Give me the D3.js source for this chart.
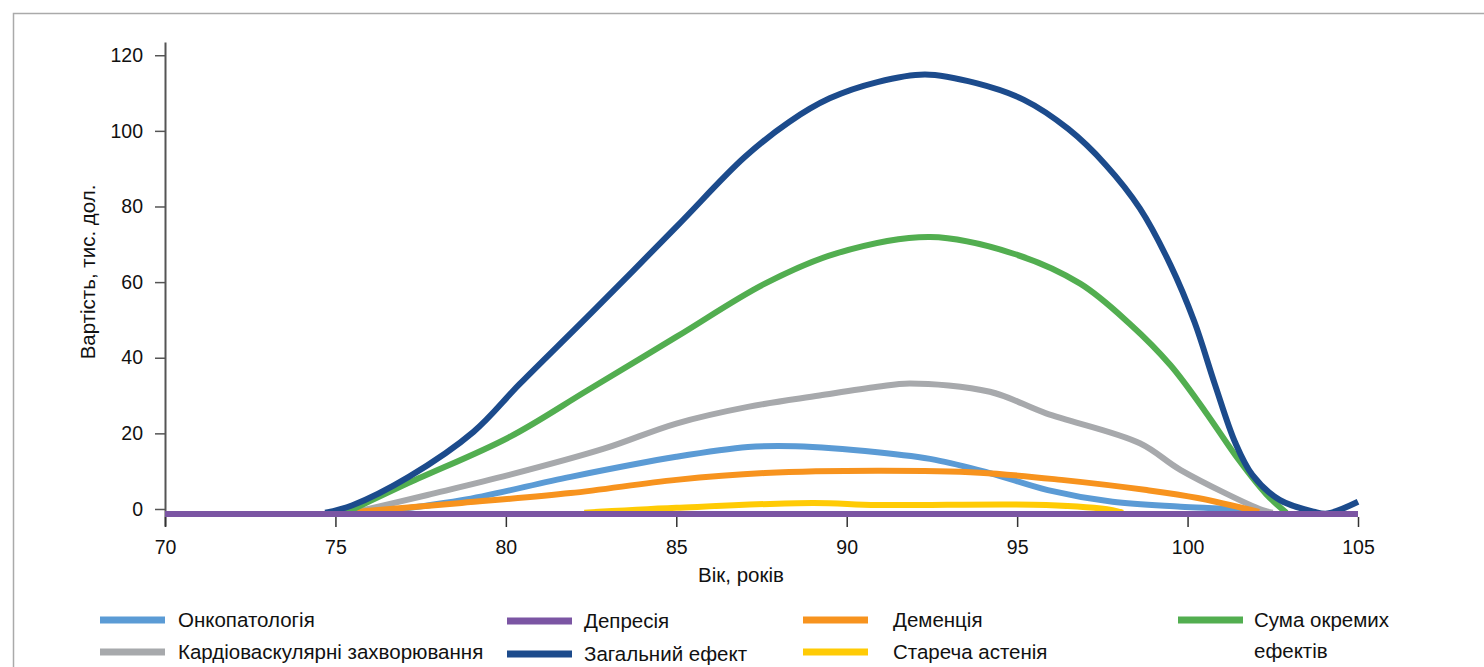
<!DOCTYPE html>
<html><head><meta charset="utf-8">
<script src="https://cdn.jsdelivr.net/npm/d3@7/dist/d3.min.js"></script>
<style>
body{margin:0;background:#fff;}
text{font-family:"Liberation Sans",Arial,sans-serif;fill:#111;}
</style></head>
<body><svg id="c" width="1484" height="667"></svg>
<script>
const xTicks = [70,75,80,85,90,95,100,105];
const yTicks = [0,20,40,60,80,100,120];

const oncoAge = [76,78.7,81.9,85,87.1,88.5,90.9,92.6,94.2,95.9,97.8,99.8,101.3,102];
const oncoVal = [-1,2.3,8.5,13.8,16.4,16.6,15,13,9.5,5,1.9,0.6,-0.1,-1];

const cardioAge = [75.5,77.7,80.1,82.9,85,87.1,89.2,90.9,91.85,94.2,95.85,98.6,99.8,102.2,102.5];
const cardioVal = [-1,3.7,9,16,22.6,27,30,32.3,33.2,31,25.3,17.4,10.3,-0.3,-1];

const dementAge = [75.3,78.7,81.9,85,87.6,90.9,93.9,96.3,98.8,100.3,102.1];
const dementVal = [-1,1.6,4.2,7.7,9.5,10.1,9.6,7.7,5,2.9,-0.8];

const frailAge = [82.3,85,89,90.9,95.85,97.8,98.1];
const frailVal = [-1,0.3,1.6,1.05,1.05,-0.3,-1];

const sumAge = [75.3,77.15,80.1,82.4,85,87.6,89.7,92.45,94.9,96.85,98.3,99.5,100.5,101.5,102.3,102.9];
const sumVal = [-1,6.9,19,31.4,45.5,59.6,67.6,71.9,67.5,59.6,49,38,26,13,4,-1];

const totalAge = [74.7,75.5,77.15,79.05,80.4,82.5,85,87,88.3,89.5,90.9,92.3,93.8,95.2,96.5,97.6,98.6,99.5,100.2,100.8,101.4,101.9,102.7,103.7,104.1,105];
const totalVal = [-1,1,8.5,20.4,33,51.8,74.6,93,102.3,108.6,112.9,114.9,112.6,108.2,100.5,91,79.5,64.5,49.5,33,17.5,9,2.4,-0.7,-1.2,1.9];

const deprAge = [70,105];
const deprVal = [-1.3,-1.3];

const legendNames = ["Онкопатологія","Кардіоваскулярні захворювання","Депресія","Загальний ефект","Деменція","Стареча астенія","Сума окремих","ефектів"];

const svg = d3.select("#c");
svg.append("rect").attr("x",13.5).attr("y",13.5).attr("width",1500).attr("height",700)
  .attr("fill","none").attr("stroke","#aaa").attr("stroke-width",1.5);

const x = d3.scaleLinear().domain([70,105]).range([165,1358]);
const y = d3.scaleLinear().domain([-4.5,123.5]).range([526,42]);

// y axis
const ya = svg.append("g").attr("transform","translate(165,0)")
  .call(d3.axisLeft(y).tickValues(yTicks).tickSize(10).tickSizeOuter(0).tickPadding(12));
ya.select(".domain").attr("stroke","#555").attr("stroke-width",2);
ya.selectAll(".tick line").attr("stroke","#555").attr("stroke-width",1.5);
ya.selectAll(".tick text").style("font-size","19.5px").attr("fill","#111");

// x axis
const xa = svg.append("g").attr("transform","translate(0,517)")
  .call(d3.axisBottom(x).tickValues(xTicks).tickSize(10).tickSizeOuter(0).tickPadding(13));
xa.select(".domain").remove();
xa.selectAll(".tick line").attr("stroke","#333").attr("stroke-width",1.5);
xa.selectAll(".tick text").style("font-size","19.5px").attr("fill","#111");

svg.append("text").attr("x",741).attr("y",582).attr("text-anchor","middle")
  .style("font-size","20.5px").text("Вік, років");
svg.append("text").attr("transform","translate(95,272) rotate(-90)").attr("text-anchor","middle")
  .style("font-size","20.5px").text("Вартість, тис. дол.");

const series = [
  {age:oncoAge,val:oncoVal,color:"#5b9bd5"},
  {age:cardioAge,val:cardioVal,color:"#a7a9ac"},
  {age:dementAge,val:dementVal,color:"#f7931e"},
  {age:frailAge,val:frailVal,color:"#ffcb05"},
  {age:sumAge,val:sumVal,color:"#52ae50"},
  {age:totalAge,val:totalVal,color:"#1c4b8c"},
  {age:deprAge,val:deprVal,color:"#7b55a3"}
];
const line = d3.line().x(d=>x(d[0])).y(d=>y(d[1])).curve(d3.curveCatmullRom.alpha(0.5));
series.forEach(s=>{
  svg.append("path").datum(d3.zip(s.age,s.val)).attr("d",line)
    .attr("fill","none").attr("stroke",s.color).attr("stroke-width",6).attr("stroke-linejoin","round");
});

// legend
const leg = [
  {name:legendNames[0],color:"#5b9bd5",sx:100,tx:178,y:620},
  {name:legendNames[1],color:"#a7a9ac",sx:100,tx:178,y:652},
  {name:legendNames[2],color:"#7b55a3",sx:507,tx:584,y:621},
  {name:legendNames[3],color:"#1c4b8c",sx:507,tx:584,y:654},
  {name:legendNames[4],color:"#f7931e",sx:803,tx:893,y:620},
  {name:legendNames[5],color:"#ffcb05",sx:803,tx:893,y:652},
  {name:legendNames[6],color:"#52ae50",sx:1178,tx:1254,y:620}
];
leg.forEach(l=>{
  svg.append("line").attr("x1",l.sx).attr("x2",l.sx+65).attr("y1",l.y).attr("y2",l.y)
    .attr("stroke",l.color).attr("stroke-width",7);
  svg.append("text").attr("x",l.tx).attr("y",l.y).attr("dy","0.35em").style("font-size","20.5px").text(l.name);
});
svg.append("text").attr("x",1254).attr("y",651).attr("dy","0.35em").style("font-size","20.5px").text(legendNames[7]);
</script></body></html>
